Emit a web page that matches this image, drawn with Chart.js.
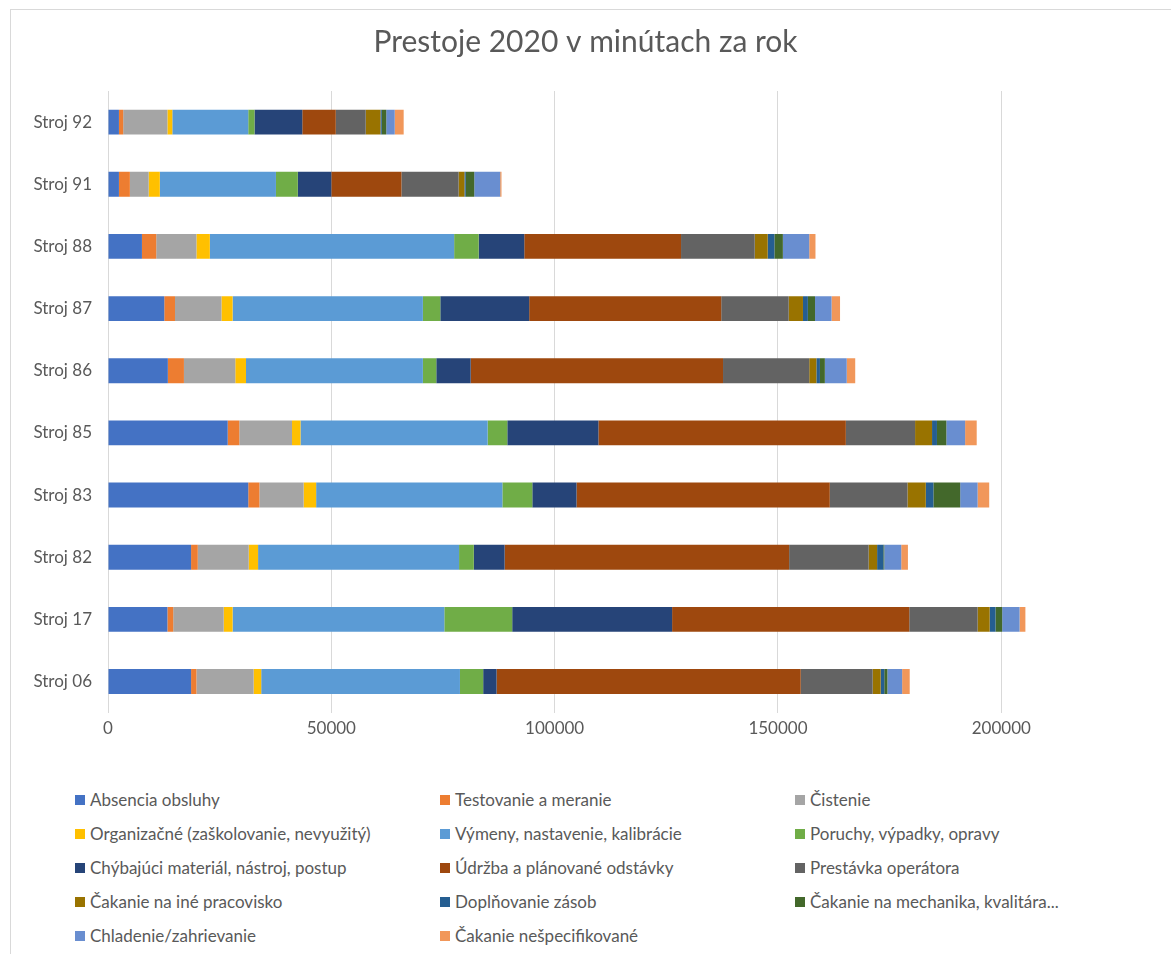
<!DOCTYPE html>
<html>
<head>
<meta charset="utf-8">
<script src="https://cdn.jsdelivr.net/npm/chart.js@4"></script>
<style>
  html, body { margin: 0; padding: 0; background: #fff; width: 1171px; height: 954px; overflow: hidden; }
  #frame { position: absolute; left: 10px; top: 9px; width: 1300px; height: 1000px;
           border-left: 1px solid #d9d9d9; border-top: 1px solid #d9d9d9; }
  #wrap { position: absolute; left: 0; top: 0; width: 1171px; height: 745px; }
  #legend { position: absolute; left: 0; top: 783px; width: 1171px; font-family: Lato, "Open Sans", sans-serif;
            font-size: 17px; color: #595959; }
  .item { position: absolute; height: 34px; line-height: 34px; white-space: nowrap; }
  .box { position: absolute; left: 0; top: 12px; width: 10px; height: 10px; }
  .txt { position: absolute; left: 15px; top: 0; }
</style>
</head>
<body>
<div id="frame"></div>
<div id="wrap"><canvas id="c"></canvas></div>
<div id="legend"></div>
<script>
const categories = ['Stroj 92','Stroj 91','Stroj 88','Stroj 87','Stroj 86','Stroj 85','Stroj 83','Stroj 82','Stroj 17','Stroj 06'];
const xTickValues = [0, 50000, 100000, 150000, 200000];

const absenciaObsluhy     = [2450, 2450, 7600, 12600, 13400, 26800, 31400, 18600, 13300, 18600];
const testovanieMeranie   = [950, 2450, 3200, 2400, 3600, 2600, 2500, 1500, 1300, 1200];
const cistenie            = [9900, 4200, 9000, 10400, 11500, 11800, 9900, 11400, 11300, 12800];
const organizacne         = [1100, 2500, 3000, 2500, 2400, 1900, 2800, 2100, 2000, 1700];
const vymeny              = [17000, 26000, 54700, 42600, 39600, 41900, 41700, 45000, 47400, 44500];
const poruchy             = [1400, 4900, 5500, 3900, 3000, 4400, 6700, 3300, 15200, 5200];
const chybajuciMaterial   = [10700, 7500, 10200, 19900, 7700, 20400, 9900, 6900, 35800, 3000];
const udrzba              = [7500, 15700, 35100, 43000, 56500, 55400, 56700, 63700, 53100, 68100];
const prestavkaOperatora  = [6700, 12800, 16500, 15100, 19300, 15500, 17400, 17800, 15300, 16100];
const cakanieInePrac      = [3300, 1300, 2900, 3200, 1600, 3800, 4100, 1900, 2700, 1800];
const doplnovanieZasob    = [300, 300, 1500, 1100, 800, 1100, 1700, 1400, 1300, 800];
const cakanieMechanika    = [1000, 1900, 1900, 1600, 1100, 2100, 6000, 200, 1500, 700];
const chladenie           = [1900, 5800, 5900, 3700, 4900, 4200, 3900, 3800, 3900, 3300];
const cakanieNespec       = [2000, 300, 1400, 1900, 1900, 2600, 2600, 1500, 1300, 1700];

const seriesNames = [
  'Absencia obsluhy','Testovanie a meranie','Čistenie',
  'Organizačné (zaškolovanie, nevyužitý)','Výmeny, nastavenie, kalibrácie','Poruchy, výpadky, opravy',
  'Chýbajúci materiál, nástroj, postup','Údržba a plánované odstávky','Prestávka operátora',
  'Čakanie na iné pracovisko','Doplňovanie zásob','Čakanie na mechanika, kvalitára...',
  'Chladenie/zahrievanie','Čakanie nešpecifikované'
];
const seriesData = [absenciaObsluhy, testovanieMeranie, cistenie, organizacne, vymeny, poruchy,
  chybajuciMaterial, udrzba, prestavkaOperatora, cakanieInePrac, doplnovanieZasob, cakanieMechanika,
  chladenie, cakanieNespec];
const seriesColors = ['#4472C4','#ED7D31','#A5A5A5','#FFC000','#5B9BD5','#70AD47',
  '#264478','#9E480E','#636363','#997300','#255E91','#43682B','#698ED0','#F1975A'];

const datasets = seriesNames.map((n, i) => ({
  label: n, data: seriesData[i], backgroundColor: seriesColors[i], borderWidth: 0,
  categoryPercentage: 1.0, barPercentage: 0.4
}));

const fontFam = 'Lato, "Open Sans", sans-serif';

new Chart(document.getElementById('c'), {
  type: 'bar',
  data: { labels: categories, datasets },
  options: {
    indexAxis: 'y',
    responsive: true,
    maintainAspectRatio: false,
    animation: false,
    layout: { padding: { left: 0, right: 0, top: 0, bottom: 0 } },
    plugins: {
      legend: { display: false },
      tooltip: { enabled: false },
      title: {
        display: true, text: 'Prestoje 2020 v minútach za rok',
        color: '#595959', font: { family: fontFam, size: 30, weight: 'normal' },
        padding: { top: 24, bottom: 31 }
      }
    },
    scales: {
      x: {
        stacked: true, min: 0, max: 238000,
        afterBuildTicks: (s) => { s.ticks = xTickValues.map(v => ({ value: v })); },
        ticks: { color: '#595959', font: { family: fontFam, size: 17 }, padding: 6, includeBounds: false,
                 callback: (v) => String(v) },
        grid: { color: '#d9d9d9', drawTicks: false, lineWidth: 1 },
        border: { display: false }
      },
      y: {
        stacked: true,
        afterFit: (s) => { s.width = 108; },
        ticks: { color: '#595959', font: { family: fontFam, size: 17 }, padding: 16 },
        grid: { display: false, drawTicks: false },
        border: { display: false }
      }
    }
  }
});

// Legend laid out in three columns, as in the reference
const leg = document.getElementById('legend');
const colX = [75, 440, 795];
seriesNames.forEach((n, i) => {
  const r = Math.floor(i / 3), c = i % 3;
  const d = document.createElement('div');
  d.className = 'item';
  d.style.left = colX[c] + 'px';
  d.style.top = (r * 34) + 'px';
  d.innerHTML = '<span class="box" style="background:' + seriesColors[i] + '"></span><span class="txt"></span>';
  d.querySelector('.txt').textContent = n;
  leg.appendChild(d);
});
</script>
</body>
</html>
